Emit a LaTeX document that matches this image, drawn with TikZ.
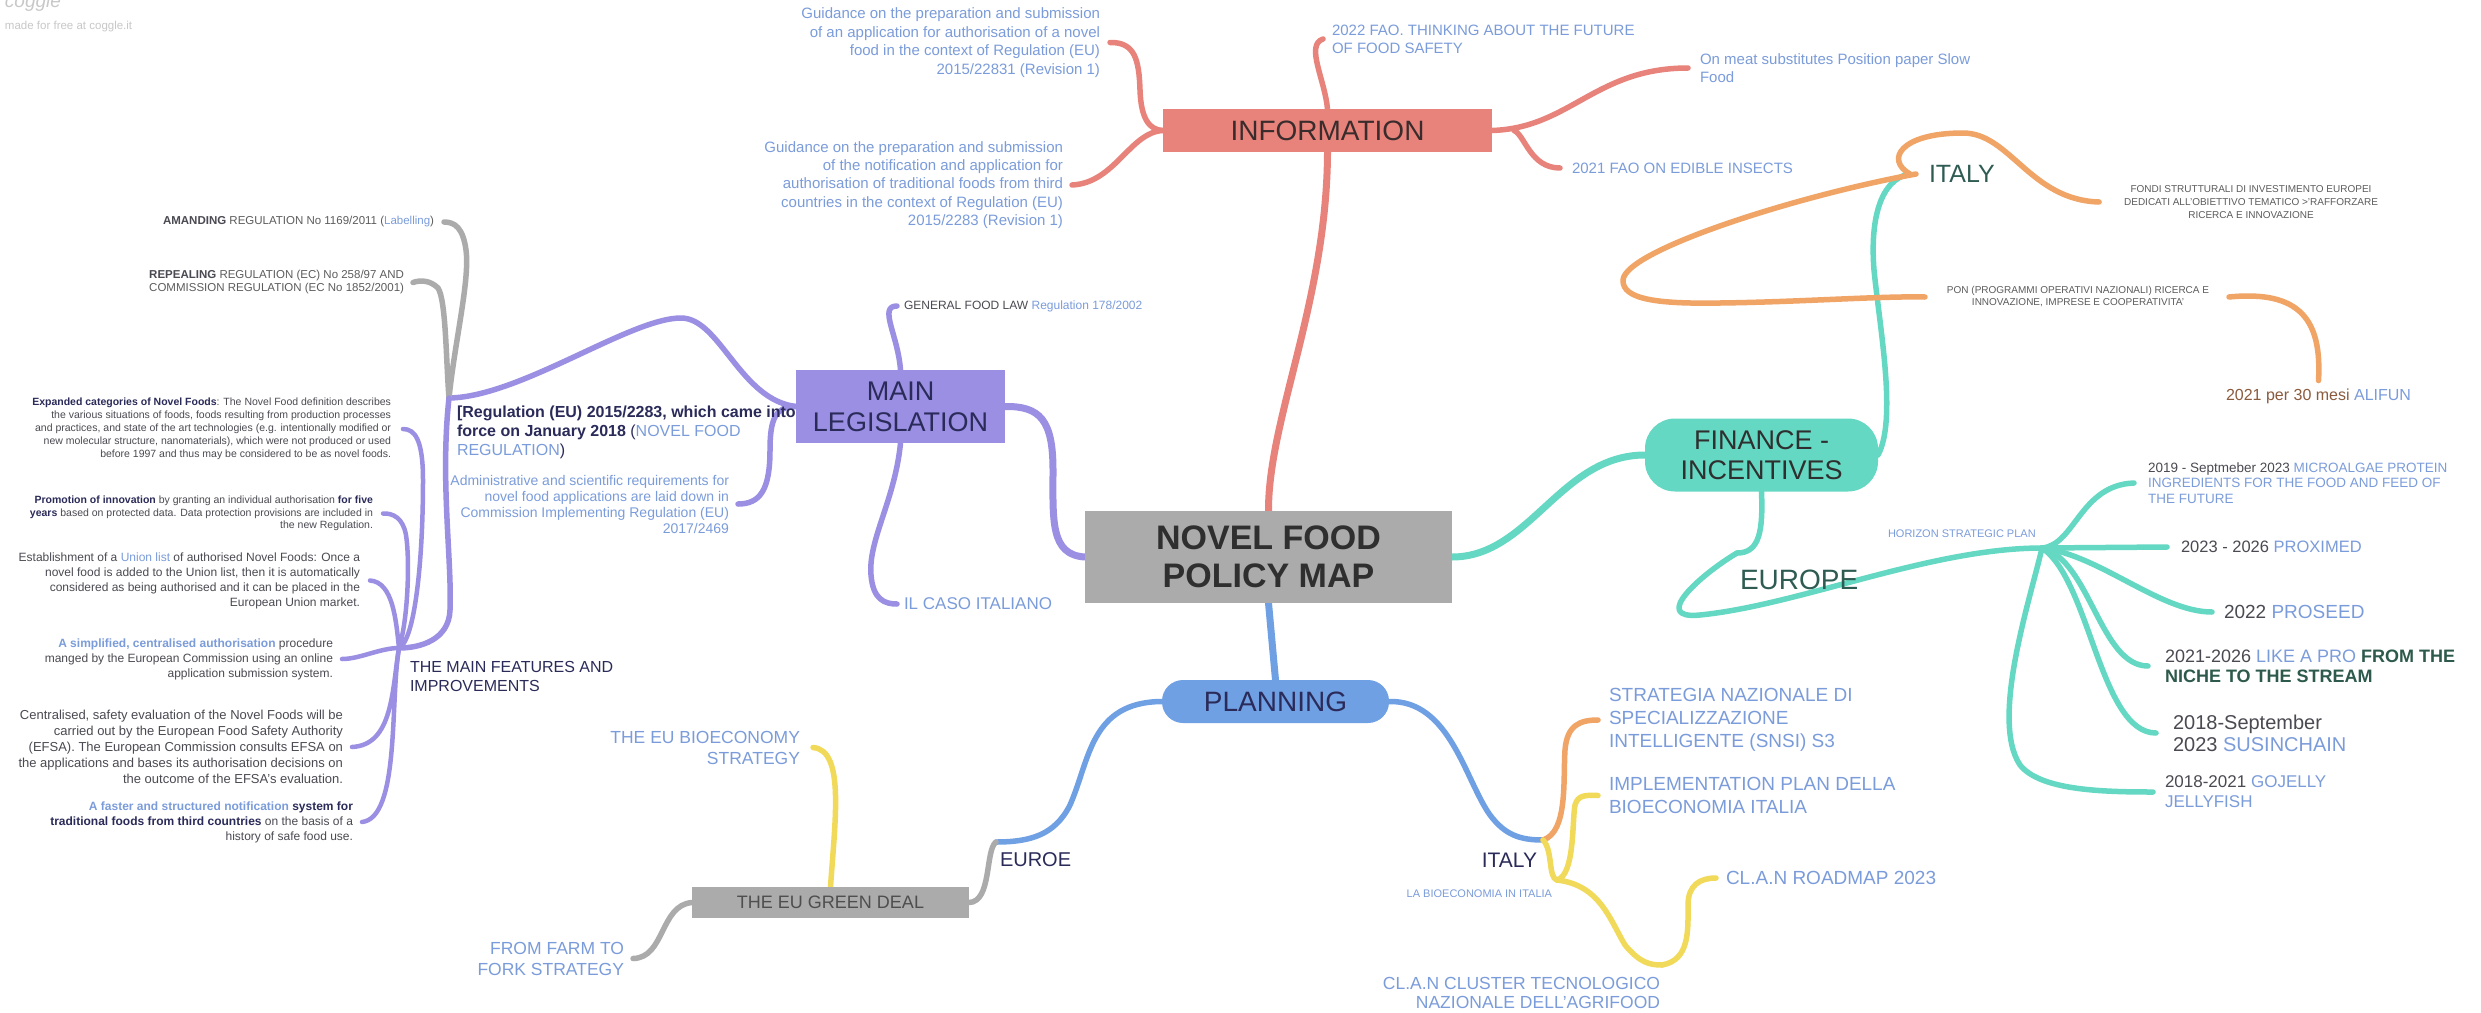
\documentclass[tikz,border=0pt]{standalone}
\usepackage{fontspec}
\setmainfont{Liberation Sans}
\pgfdeclarelayer{bg}
\pgfsetlayers{bg,main}
\newcommand\myfs[2]{\fontsize{#1}{#2}\selectfont}
\definecolor{salmon}{HTML}{E8837B}
\definecolor{purp}{HTML}{9A8FE3}
\definecolor{tealc}{HTML}{64D8C2}
\definecolor{bluec}{HTML}{6FA0E4}
\definecolor{grayc}{HTML}{ABABAB}
\definecolor{orangec}{HTML}{F0A466}
\definecolor{yellowc}{HTML}{F1DA5A}
\definecolor{lb}{HTML}{7B9CDA}
\definecolor{navy}{HTML}{2B2B5A}
\definecolor{dg}{HTML}{4A4A52}
\definecolor{gr}{HTML}{5C5C5C}
\definecolor{dteal}{HTML}{2E5C53}
\definecolor{brownc}{HTML}{8B5B3D}
\definecolor{greenb}{HTML}{2D5A4C}
\definecolor{logoc}{HTML}{C8C8C8}
\definecolor{ctext}{HTML}{2F2F2F}
\definecolor{infot}{HTML}{3A2C2C}
\begin{document}
\begin{tikzpicture}[x=1pt,y=-1pt,
  txt/.style={inner sep=0pt,outer sep=0pt},
  boxn/.style={inner sep=0pt,outer sep=0pt,align=center},
  br/.style={draw=#1,line width=5.5pt,line cap=round,line join=round},
  mbr/.style={draw=#1,line width=7pt,line cap=round,line join=round},
  sbr/.style={draw=#1,line width=4.5pt,line cap=round,line join=round}]
\useasboundingbox (0,0) rectangle (2481,1012);
\begin{pgfonlayer}{bg}
\fill[white] (0,0) rectangle (2481,1012);
\end{pgfonlayer}

% logo
\node[txt,anchor=base west,text=logoc,font={\myfs{19}{19}\itshape}] (logo) at (5,7) {coggle};
\node[txt,anchor=west,text=logoc,font={\myfs{11.5}{13}}] (made) at (5,27) {made for free at coggle.it};

% boxes
\node[boxn,fill=grayc,minimum width=367pt,minimum height=92pt,text=ctext,font={\myfs{34}{38}\bfseries}] (center) at (1268.5,557) {NOVEL FOOD\\POLICY MAP};
\node[boxn,fill=salmon,minimum width=329pt,minimum height=43pt,text=infot,font={\myfs{28}{30}}] (info) at (1327.5,130.5) {INFORMATION};
\node[boxn,fill=purp,minimum width=209pt,minimum height=73pt,text=navy,font={\myfs{27}{31}}] (ml) at (900.5,406.5) {MAIN\\LEGISLATION};
\node[boxn,fill=tealc,rounded corners=30pt,minimum width=233pt,minimum height=73pt,text=ctext,font={\myfs{27}{30}}] (fin) at (1761.5,455) {FINANCE -\\INCENTIVES};
\node[boxn,fill=bluec,rounded corners=21pt,minimum width=227pt,minimum height=43pt,text=navy,font={\myfs{28}{30}}] (plan) at (1275.5,701.5) {PLANNING};
\node[boxn,fill=grayc,minimum width=277pt,minimum height=31pt,text=ctext!85,font={\myfs{18}{20}}] (gd) at (830.5,902.5) {THE EU GREEN DEAL};

% information children
\node[txt,anchor=east,align=right,text=lb,font={\myfs{15}{18.5}}] (info1) at (1100,42.5) {Guidance on the preparation and submission\\of an application for authorisation of a novel\\food in the context of Regulation (EU)\\2015/22831 (Revision 1)};
\node[txt,anchor=east,align=right,text=lb,font={\myfs{15}{18.3}}] (info2) at (1063,185) {Guidance on the preparation and submission\\of the notification and application for\\authorisation of traditional foods from third\\countries in the context of Regulation (EU)\\2015/2283 (Revision 1)};
\node[txt,anchor=west,align=left,text=lb,font={\myfs{15}{18}}] (info3) at (1332,39) {2022 FAO. THINKING ABOUT THE FUTURE\\OF FOOD SAFETY};
\node[txt,anchor=west,align=left,text=lb,font={\myfs{15}{18}}] (info4) at (1700,68) {On meat substitutes Position paper Slow\\Food};
\node[txt,anchor=west,text=lb,font={\myfs{15}{18}}] (info5) at (1572,168) {2021 FAO ON EDIBLE INSECTS};

% main legislation children
\node[txt,anchor=west,font={\myfs{12}{14}}] (gfl) at (904,306) {\textcolor{dg}{GENERAL FOOD LAW} \textcolor{lb}{Regulation 178/2002}};
\node[txt,anchor=west,text=lb,font={\myfs{17}{19}}] (caso) at (904,604) {IL CASO ITALIANO};
\node[txt,anchor=west,align=left,text=navy,font={\myfs{16}{19}}] (reg) at (457,432) {\textbf{[Regulation (EU) 2015/2283, which came into}\\\textbf{force on January 2018} (\textcolor{lb}{NOVEL FOOD}\\\textcolor{lb}{REGULATION})};
\node[txt,anchor=east,align=right,text=lb,font={\myfs{14}{16}}] (admin) at (729,504) {Administrative and scientific requirements for\\novel food applications are laid down in\\Commission Implementing Regulation (EU)\\2017/2469};
\node[txt,anchor=east,text=gr,font={\myfs{11.5}{13}}] (amand) at (434,222) {\textcolor{dg}{\textbf{AMANDING}} REGULATION No 1169/2011 (\textcolor{lb}{Labelling})};
\node[txt,anchor=east,align=right,text=gr,font={\myfs{11.5}{13}}] (repeal) at (404,282.5) {\textcolor{dg}{\textbf{REPEALING}} REGULATION (EC) No 258/97 AND\\COMMISSION REGULATION (EC No 1852/2001)};
\node[txt,anchor=west,align=left,text=navy,font={\myfs{16}{19}}] (feat) at (410,676.5) {THE MAIN FEATURES AND\\IMPROVEMENTS};
\node[txt,anchor=east,align=right,text=dg,font={\myfs{10.5}{13}}] (expa) at (391,429) {\textcolor{navy}{\textbf{Expanded categories of Novel Foods}}: The Novel Food definition describes\\the various situations of foods, foods resulting from production processes\\and practices, and state of the art technologies (e.g. intentionally modified or\\new molecular structure, nanomaterials), which were not produced or used\\before 1997 and thus may be considered to be as novel foods.};
\node[txt,anchor=east,align=right,text=dg,font={\myfs{10.5}{12.5}}] (promo) at (373,513.5) {\textcolor{navy}{\textbf{Promotion of innovation}} by granting an individual authorisation \textcolor{navy}{\textbf{for five}}\\\textcolor{navy}{\textbf{years}} based on protected data. Data protection provisions are included in\\the new Regulation.};
\node[txt,anchor=east,align=right,text=dg,font={\myfs{12}{15}}] (union) at (360,580.5) {Establishment of a \textcolor{lb}{Union list} of authorised Novel Foods: Once a\\novel food is added to the Union list, then it is automatically\\considered as being authorised and it can be placed in the\\European Union market.};
\node[txt,anchor=east,align=right,text=dg,font={\myfs{12}{15}}] (simpl) at (333,659) {\textcolor{lb}{\textbf{A simplified, centralised authorisation}} procedure\\manged by the European Commission using an online\\application submission system.};
\node[txt,anchor=east,align=right,text=dg,font={\myfs{13}{16}}] (centr) at (343,747) {Centralised, safety evaluation of the Novel Foods will be\\carried out by the European Food Safety Authority\\(EFSA). The European Commission consults EFSA on\\the applications and bases its authorisation decisions on\\the outcome of the EFSA's evaluation.};
\node[txt,anchor=east,align=right,text=dg,font={\myfs{12}{15}}] (faster) at (353,822) {\textcolor{lb}{\textbf{A faster and structured notification}} \textcolor{navy}{\textbf{system for}}\\\textcolor{navy}{\textbf{traditional foods from third countries}} on the basis of a\\history of safe food use.};

% finance children
\node[txt,anchor=west,text=dteal,font={\myfs{25}{27}}] (italyF) at (1929,174) {ITALY};
\node[txt,align=center,text=gr,font={\myfs{10}{13}}] (fondi) at (2251,202) {FONDI STRUTTURALI DI INVESTIMENTO EUROPEI\\DEDICATI ALL'OBIETTIVO TEMATICO >'RAFFORZARE\\RICERCA E INNOVAZIONE};
\node[txt,align=center,text=gr,font={\myfs{10}{12}}] (pon) at (2078,297) {PON (PROGRAMMI OPERATIVI NAZIONALI) RICERCA E\\INNOVAZIONE, IMPRESE E COOPERATIVITA'};
\node[txt,anchor=west,font={\myfs{16}{18}}] (alifun) at (2226,396) {\textcolor{brownc}{2021 per 30 mesi} \textcolor{lb}{ALIFUN}};
\node[txt,anchor=west,text=dteal,font={\myfs{28}{30}}] (europe) at (1740,580) {EUROPE};
\node[txt,anchor=west,text=lb,font={\myfs{11}{13}}] (horizon) at (1888,534) {HORIZON STRATEGIC PLAN};
\node[txt,anchor=west,align=left,text=dg,font={\myfs{13.5}{15.5}}] (micro) at (2148,483) {2019 - Septmeber 2023 \textcolor{lb}{MICROALGAE PROTEIN}\\\textcolor{lb}{INGREDIENTS FOR THE FOOD AND FEED OF}\\\textcolor{lb}{THE FUTURE}};
\node[txt,anchor=west,text=dg,font={\myfs{16.5}{18}}] (proximed) at (2181,547) {2023 - 2026 \textcolor{lb}{PROXIMED}};
\node[txt,anchor=west,text=dg,font={\myfs{19}{21}}] (proseed) at (2224,612) {2022 \textcolor{lb}{PROSEED}};
\node[txt,anchor=west,align=left,text=dg,font={\myfs{18}{20}}] (likeapro) at (2165,666) {2021-2026 \textcolor{lb}{LIKE A PRO} \textcolor{greenb}{\textbf{FROM THE}}\\\textcolor{greenb}{\textbf{NICHE TO THE STREAM}}};
\node[txt,anchor=west,align=left,text=dg,font={\myfs{20}{22}}] (susin) at (2173,733) {2018-September\\2023 \textcolor{lb}{SUSINCHAIN}};
\node[txt,anchor=west,align=left,text=dg,font={\myfs{17}{20}}] (gojelly) at (2165,792) {2018-2021 \textcolor{lb}{GOJELLY}\\\textcolor{lb}{JELLYFISH}};

% planning children
\node[txt,anchor=west,text=navy,font={\myfs{20}{22}}] (euroe) at (1000,860) {EUROE};
\node[txt,anchor=east,align=right,text=lb,font={\myfs{17.5}{21}}] (bioeco) at (800,747.5) {THE EU BIOECONOMY\\STRATEGY};
\node[txt,anchor=east,align=right,text=lb,font={\myfs{17.5}{21}}] (farm) at (624,958.5) {FROM FARM TO\\FORK STRATEGY};
\node[txt,anchor=east,text=navy,font={\myfs{21}{23}}] (italyP) at (1537,860) {ITALY};
\node[txt,anchor=east,text=lb,font={\myfs{11}{13}}] (labio) at (1552,894) {LA BIOECONOMIA IN ITALIA};
\node[txt,anchor=west,align=left,text=lb,font={\myfs{19}{23}}] (snsi) at (1609,720) {STRATEGIA NAZIONALE DI\\SPECIALIZZAZIONE\\INTELLIGENTE (SNSI) S3};
\node[txt,anchor=west,align=left,text=lb,font={\myfs{19}{23}}] (impl) at (1609,795.5) {IMPLEMENTATION PLAN DELLA\\BIOECONOMIA ITALIA};
\node[txt,anchor=west,text=lb,font={\myfs{19}{21}}] (roadmap) at (1726,878) {CL.A.N ROADMAP 2023};
\node[txt,anchor=east,align=right,text=lb,font={\myfs{17.5}{19}}] (cluster) at (1660,992.5) {CL.A.N CLUSTER TECNOLOGICO\\NAZIONALE DELL'AGRIFOOD};

% hubs
\coordinate (regA) at (449,398);
\coordinate (featA) at (399,648);
\coordinate (eurA) at (1737,553);
\coordinate (horA) at (2042,548);
\coordinate (euA) at (996,842);
\coordinate (itA) at (1543,840);
\coordinate (labA) at (1557,880);
\coordinate (cluA) at (1662,965);

\begin{pgfonlayer}{bg}
% information
\draw[mbr=salmon] (center.north) .. controls (1268,420) and (1327,300) .. (info.south);
\draw[br=salmon] (info.west) .. controls (1150,130) and (1141,120) .. (1140,90) .. controls (1139,60) and (1135,42) .. ([xshift=10pt]info1.east);
\draw[br=salmon] (info.west) .. controls (1130,132) and (1115,183) .. ([xshift=9pt]info2.east);
\draw[br=salmon] (info.north) .. controls (1325,80) and (1305,45) .. ([xshift=-9pt]info3.west);
\draw[br=salmon] (info.east) .. controls (1570,128) and (1595,68) .. ([xshift=-12pt]info4.west);
\draw[br=salmon] ([xshift=22pt]info.east) .. controls (1525,135) and (1530,168) .. ([xshift=-12pt]info5.west);
% main legislation
\draw[mbr=purp] (center.west) .. controls (1050,555) and (1053,520) .. (1053,470) .. controls (1053,420) and (1040,406) .. (ml.east);
\draw[br=purp] (ml.north) .. controls (898,335) and (878,306) .. ([xshift=-7pt]gfl.west);
\draw[br=purp] (ml.south) .. controls (895,500) and (868,540) .. (871,575) .. controls (873,600) and (885,604) .. ([xshift=-7pt]caso.west);
\draw[br=purp] (ml.west) .. controls (740,400) and (720,318) .. (681,318) .. controls (630,318) and (520,397) .. (regA);
\draw[br=purp] (ml.west) .. controls (775,406) and (770,420) .. (770,450) .. controls (770,490) and (760,504) .. ([xshift=9pt]admin.east);
\draw[br=grayc] (regA) .. controls (455,340) and (470,280) .. (466,250) .. controls (463,228) and (455,222) .. ([xshift=10pt]amand.east);
\draw[br=grayc] (regA) .. controls (446,360) and (446,300) .. (438,288) .. controls (430,280) and (420,280) .. ([xshift=9pt]repeal.east);
\draw[br=purp] (regA) .. controls (440,480) and (452,560) .. (450,610) .. controls (449,640) and (420,648) .. (featA);
\draw[sbr=purp] (featA) .. controls (415,640) and (423,560) .. (423,480) .. controls (423,440) and (415,429) .. ([xshift=12pt]expa.east);
\draw[sbr=purp] (featA) .. controls (408,620) and (410,560) .. (406,535) .. controls (403,518) and (393,513) .. ([xshift=10pt]promo.east);
\draw[sbr=purp] (featA) .. controls (396,620) and (393,582) .. ([xshift=10pt]union.east);
\draw[sbr=purp] (featA) .. controls (380,648) and (360,659) .. ([xshift=9pt]simpl.east);
\draw[sbr=purp] (featA) .. controls (392,690) and (393,745) .. ([xshift=9pt]centr.east);
\draw[sbr=purp] (featA) .. controls (390,700) and (400,818) .. ([xshift=9pt]faster.east);
% finance
\draw[mbr=tealc] (center.east) .. controls (1530,557) and (1560,455) .. (fin.west);
\draw[br=tealc] (fin.east) .. controls (1897,420) and (1880,330) .. (1874,270) .. controls (1870,220) and (1880,180) .. ([xshift=-20pt]italyF.west);
\draw[br=orangec] ([xshift=-19pt]italyF.west) .. controls (1885,160) and (1900,133) .. (1963,133) .. controls (2010,133) and (2030,200) .. ([xshift=-25pt]fondi.west);
\draw[br=orangec] ([xshift=-13pt]italyF.west) .. controls (1800,195) and (1625,250) .. (1623,280) .. controls (1622,300) and (1660,304) .. (1720,303) .. controls (1800,302) and (1880,296) .. ([xshift=-22pt]pon.west);
\draw[br=orangec] ([xshift=20pt]pon.east) .. controls (2300,290) and (2322,320) .. ([yshift=8pt]alifun.north);
\draw[br=tealc] (fin.south) .. controls (1763,530) and (1760,553) .. (eurA);
\draw[br=tealc] (eurA) .. controls (1700,575) and (1650,620) .. (1700,615) .. controls (1800,605) and (1930,548) .. (horA);
\draw[br=tealc] (horA) .. controls (2075,545) and (2080,485) .. ([xshift=-14pt]micro.west);
\draw[br=tealc] (horA) -- ([xshift=-14pt]proximed.west);
\draw[br=tealc] (horA) .. controls (2100,555) and (2160,612) .. ([xshift=-12pt]proseed.west);
\draw[br=tealc] (horA) .. controls (2090,560) and (2100,666) .. ([xshift=-17pt]likeapro.west);
\draw[br=tealc] (horA) .. controls (2090,580) and (2100,733) .. ([xshift=-17pt]susin.west);
\draw[br=tealc] (horA) .. controls (2030,600) and (1990,720) .. (2020,765) .. controls (2040,790) and (2100,792) .. ([xshift=-12pt]gojelly.west);
% planning
\draw[mbr=bluec] (center.south) -- (plan.north);
\draw[br=bluec] (plan.west) .. controls (1090,702) and (1090,760) .. (1070,805) .. controls (1055,835) and (1030,842) .. (euA);
\draw[br=grayc] (euA) .. controls (985,850) and (992,902) .. (gd.east);
\draw[br=yellowc] (gd.north) .. controls (835,820) and (845,750) .. ([xshift=13pt]bioeco.east);
\draw[br=grayc] (gd.west) .. controls (660,905) and (665,958) .. ([xshift=9pt]farm.east);
\draw[br=bluec] (plan.east) .. controls (1450,700) and (1465,780) .. (1490,815) .. controls (1505,835) and (1520,840) .. (itA);
\draw[br=orangec] (itA) .. controls (1568,832) and (1563,780) .. (1565,750) .. controls (1567,725) and (1580,720) .. ([xshift=-11pt]snsi.west);
\draw[br=yellowc] (itA) .. controls (1553,850) and (1548,878) .. (labA);
\draw[br=yellowc] (labA) .. controls (1575,875) and (1572,820) .. (1575,805) .. controls (1578,795) and (1585,795) .. ([xshift=-11pt]impl.west);
\draw[br=yellowc] (labA) .. controls (1600,885) and (1610,920) .. (1625,945) .. controls (1640,963) and (1650,965) .. (cluA);
\draw[br=yellowc] (cluA) .. controls (1690,960) and (1688,930) .. (1688,905) .. controls (1688,885) and (1700,878) .. ([xshift=-10pt]roadmap.west);
\end{pgfonlayer}
\end{tikzpicture}
\end{document}
